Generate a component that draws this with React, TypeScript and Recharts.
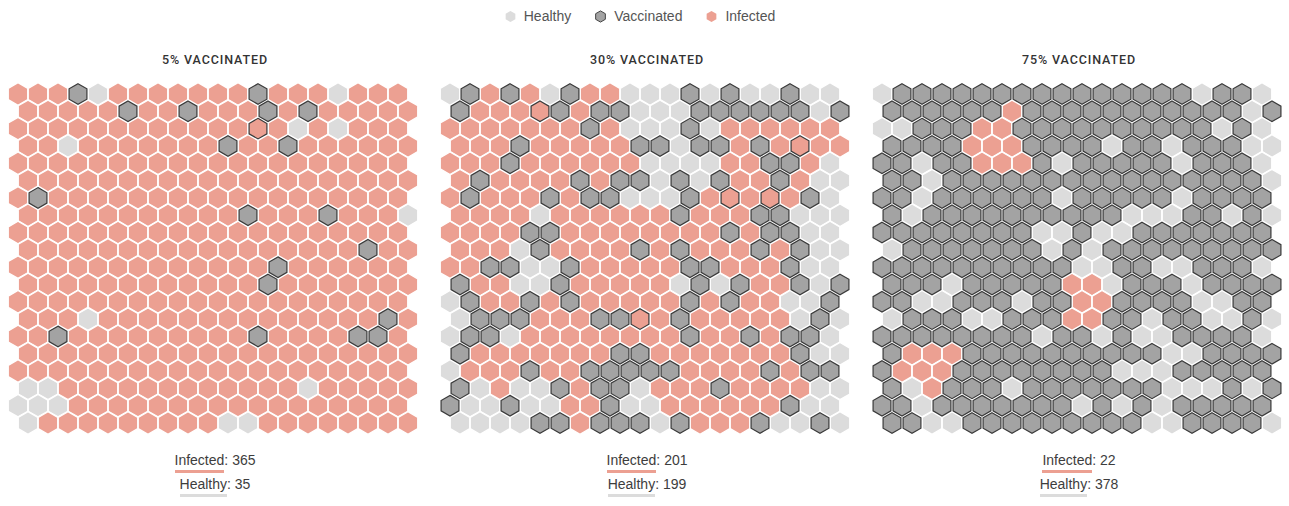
import React from "react";
import { ScatterChart, Scatter, XAxis, YAxis } from "recharts";

// H = healthy, V = vaccinated, I = infected, X = infected drawn with an outline
const legendLabels = ["Healthy", "Vaccinated", "Infected"];
const panelTitles = ["5% VACCINATED", "30% VACCINATED", "75% VACCINATED"];
const infectedCounts = [365, 201, 22];
const healthyCounts = [35, 199, 378];

const grid5 = [
  "IIIVHIIIIIIIVIIIHIII",
  "IIIIIVIIVIIIVIVIIIII",
  "IIIIIIIIIIIIXIHIHIII",
  "IIHIIIIIIIVIIVIIIIII",
  "IIIIIIIIIIIIIIIIIIII",
  "IIIIIIIIIIIIIIIIIIII",
  "IVIIIIIIIIIIIIIIIIII",
  "IIIIIIIIIIIVIIIVIIIH",
  "IIIIIIIIIIIIIIIIIIII",
  "IIIIIIIIIIIIIIIIIVII",
  "IIIIIIIIIIIIIVIIIIII",
  "IIIIIIIIIIIIVIIIIIII",
  "IIIIIIIIIIIIIIIIIIII",
  "IIIHIIIIIIIIIIIIIIVI",
  "IIVIIIIIIIIIVIIIIVVI",
  "IIIIIIIIIIIIIIIIIIII",
  "IIIIIIIIIIIIIIIIIIII",
  "HHIIIIIIIIIIIIHIIIII",
  "HHHIIIIIIIIIIIIIIIII",
  "HIIIIIIIIIHHIIIIIIII",
];

const grid30 = [
  "HVIVIHVIIHHHVHVHHVHH",
  "VIIIXVIVVHHHVVVVVVHV",
  "IIIIIIIVIHHHVHIIIIII",
  "IIIVIIIIIVVHVVIVIXII",
  "IIIVIIIIIIHHHHIIVVIH",
  "IVIIIIVIVVHVHVIIVIHH",
  "IVIIIVIVVHHHVIXIXIVH",
  "IIIIHIIIIIIVIIIVVHHH",
  "IIIIVVIIIIIIIIVIVVHH",
  "IIIHVIIIIVIVIIIVIVHH",
  "IIVVHHVIIIIIVVIIIVHH",
  "VIIHHVIIIIIHVHVIIVHV",
  "HVIIVIVIIIIIVIVIIHHV",
  "HVVVIIIVVXIVIIIIIHVH",
  "HVVHIIIIIIIIVIIVIVVH",
  "VIIIIIIIVVIIIIIIIVHH",
  "HIIIVIIVVVVVIIIIVIVV",
  "VHIHHVIVVHIIIVIIIIHH",
  "VHHVHHIIVHHIIIIIIVHH",
  "HHHHVVIVVVHVIIIVHHVH",
];

const grid75 = [
  "HVVVVVVVVVVVVVVVHVVH",
  "VVVVVVIVVVVVVVVVVVHV",
  "HHVVVIIVVVVVVVVVVHVH",
  "VVVVIIIVVVVHVVHVVVHH",
  "VVHVVIIIVHVVVVVHVVVH",
  "VVHVVVVVVVVVVVVVVVVH",
  "VVHVVVVVVHVVVVVHVVVV",
  "VHVVVVVVVVVVHHHVVHVH",
  "VVVVVVVVHHVHHVVVVVVV",
  "HVVVVVVVHVHVVVVVVVVV",
  "VVVVVVVVVVHHVVHHVVVH",
  "VVVHVVVVVIIHVVVHVVVV",
  "VVHHVVVHVVIIVVVVHHVV",
  "HVVVHHVVVIIVVHVVHHVH",
  "VVVVVVVVHVVHVHHVVVVH",
  "VIIIVVVVVVVVVVHHVVVV",
  "VIIIVVVVVVVVHHHVVVVV",
  "VHIVVVHVVVVVVVHHHVHV",
  "VVHVVVVVVVHVHVHVVVVV",
  "VVHHVVVVVVVVVHHVVVVH",
];

const grids = [grid5, grid30, grid75];

const HEALTHY = "#dcdcdc";
const VACC = "#a3a3a3";
const INFECTED = "#eca092";
const OUTLINE = "#3a3a3a";
const TEXT = "#3d3d3d";

function hexPoints(cx: number, cy: number, r: number) {
  const pts: string[] = [];
  for (let i = 0; i < 6; i++) {
    const a = (Math.PI / 3) * i - Math.PI / 2;
    pts.push(`${(cx + r * Math.cos(a)).toFixed(2)},${(cy + r * Math.sin(a)).toFixed(2)}`);
  }
  return pts.join(" ");
}

const plainHex = (fill: string) => (props: any) =>
  <polygon points={hexPoints(props.cx, props.cy, 11.3)} fill={fill} stroke="#fff" strokeWidth={1.4} />;

const outlinedHex = (fill: string) => (props: any) =>
  <polygon points={hexPoints(props.cx, props.cy, 10.3)} fill={fill} stroke={OUTLINE} strokeWidth={1.2} />;

function toCells(grid: string[]) {
  const cells: { x: number; y: number; s: string }[] = [];
  grid.forEach((row, r) => {
    row.split("").forEach((s, c) => cells.push({ x: c + (r % 2 ? 0.5 : 0), y: r, s }));
  });
  return cells;
}

function LegendHex({ fill, stroke }: { fill: string; stroke?: string }) {
  return (
    <svg width={11} height={13} style={{ display: "block" }}>
      <polygon points={hexPoints(5.5, 6.5, 5.6)} fill={fill} stroke={stroke || "none"} strokeWidth={1} />
    </svg>
  );
}

function Panel({ index }: { index: number }) {
  const left = index * 432;
  const cells = toCells(grids[index]);
  const pick = (s: string) => cells.filter((c) => c.s === s);
  return (
    <>
      <div
        style={{
          position: "absolute", left, top: 52, width: 430, textAlign: "center",
          fontFamily: "Roboto", fontWeight: 500, fontSize: 12.5, letterSpacing: 0.9, color: "#333", lineHeight: "16px",
        }}
      >
        {panelTitles[index]}
      </div>
      <div style={{ position: "absolute", left, top: 80 }}>
        <ScatterChart width={432} height={360} margin={{ top: 14, right: 24, bottom: 17, left: 18 }}>
          <XAxis type="number" dataKey="x" domain={[0, 19.5]} hide />
          <YAxis type="number" dataKey="y" domain={[0, 19]} reversed hide width={0} />
          <Scatter data={pick("H")} shape={plainHex(HEALTHY)} isAnimationActive={false} />
          <Scatter data={pick("I")} shape={plainHex(INFECTED)} isAnimationActive={false} />
          <Scatter data={pick("V")} shape={outlinedHex(VACC)} isAnimationActive={false} />
          <Scatter data={pick("X")} shape={outlinedHex(INFECTED)} isAnimationActive={false} />
        </ScatterChart>
      </div>
      <div
        style={{
          position: "absolute", left, top: 448, width: 430, textAlign: "center",
          fontFamily: "Liberation Sans, Arial, sans-serif", fontSize: 14, lineHeight: "24px", color: TEXT,
        }}
      >
        <div>
          <span style={{ borderBottom: `3px solid ${INFECTED}`, paddingBottom: 2 }}>Infected</span>: {infectedCounts[index]}
        </div>
        <div>
          <span style={{ borderBottom: `3px solid ${HEALTHY}`, paddingBottom: 2 }}>Healthy</span>: {healthyCounts[index]}
        </div>
      </div>
    </>
  );
}

export default function App() {
  const legendFills = [HEALTHY, VACC, INFECTED];
  return (
    <div style={{ position: "absolute", left: 0, top: 0, width: 1289, height: 506, background: "#fff", overflow: "hidden" }}>
      <div
        style={{
          position: "absolute", left: 0, top: 6, width: 1280, display: "flex", justifyContent: "center", gap: 24,
          fontFamily: "Liberation Sans, Arial, sans-serif", fontSize: 14, color: "#555", lineHeight: "20px",
        }}
      >
        {legendLabels.map((l, i) => (
          <div key={l} style={{ display: "flex", alignItems: "center", gap: 8 }}>
            <LegendHex fill={legendFills[i]} stroke={i === 1 ? "#444" : undefined} />
            <span>{l}</span>
          </div>
        ))}
      </div>
      {[0, 1, 2].map((i) => (
        <Panel key={i} index={i} />
      ))}
    </div>
  );
}
